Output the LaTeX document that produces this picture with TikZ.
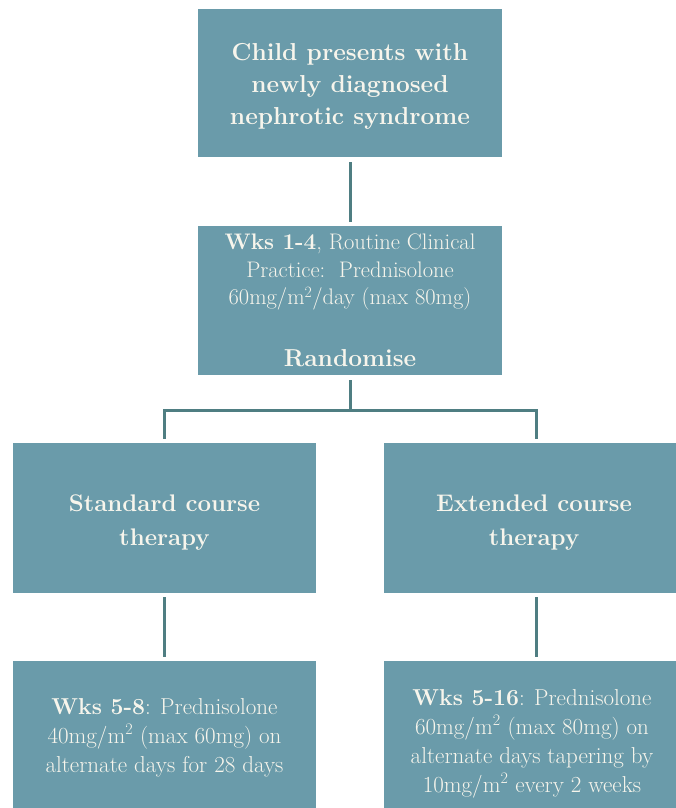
\documentclass[tikz,border=0pt]{standalone}
\usepackage{fontspec}
\definecolor{boxfill}{HTML}{6A9BAA}
\definecolor{linecol}{HTML}{4F7E82}
\definecolor{txtcol}{HTML}{F7F5EC}
\tikzset{
  flowbox/.style={fill=boxfill, draw=none, inner sep=0pt},
  boxtext/.style={inner sep=0pt, align=center, text=txtcol},
  conn/.style={draw=linecol, line width=3pt},
}
\begin{document}
\begin{tikzpicture}[x=1pt,y=-1pt]
\useasboundingbox (0,0) rectangle (676,808);
\fill[white] (0,0) rectangle (676,808);
\clip (0,0) rectangle (676,808);
\node[flowbox, minimum width=304pt, minimum height=148pt] (top) at (350,83) {};
\node[boxtext, font=\fontsize{24.5}{32}\selectfont\bfseries] (toptext) at ([yshift=-3pt]top.center)
  {Child presents with\\newly diagnosed\\nephrotic syndrome};
\node[flowbox, minimum width=304pt, minimum height=149pt] (mid) at (350,300.5) {};
\node[boxtext, font=\fontsize{22.5}{27.5}\selectfont] (midtext) at ([yshift=0pt]mid.center)
  {\textbf{Wks 1-4}, Routine Clinical\\Practice:\ \ Prednisolone\\60mg/m\textsuperscript{2}/day (max 80mg)\\[34pt]{\fontsize{24.5}{28}\selectfont\bfseries Randomise}};
\node[flowbox, minimum width=303pt, minimum height=150pt] (std) at (164.5,518) {};
\node[boxtext, font=\fontsize{24}{34}\selectfont\bfseries] (stdtext) at ([yshift=-5pt]std.center)
  {Standard course\\therapy};
\node[flowbox, minimum width=296pt, minimum height=150pt] (ext) at (532,518) {};
\node[boxtext, font=\fontsize{24}{34}\selectfont\bfseries] (exttext) at ([xshift=2pt,yshift=-5pt]ext.center)
  {Extended course\\therapy};
\node[flowbox, minimum width=303pt, minimum height=154pt] (stdw) at (164.5,738) {};
\node[boxtext, font=\fontsize{23}{29}\selectfont] (stdwtext) at ([yshift=0pt]stdw.center)
  {\textbf{Wks 5-8}: Prednisolone\\40mg/m\textsuperscript{2} (max 60mg) on\\alternate days for 28 days};
\node[flowbox, minimum width=296pt, minimum height=154pt] (extw) at (532,738) {};
\node[boxtext, font=\fontsize{23}{29}\selectfont] (extwtext) at ([yshift=-6pt]extw.center)
  {\textbf{Wks 5-16}: Prednisolone\\60mg/m\textsuperscript{2} (max 80mg) on\\alternate days tapering by\\10mg/m\textsuperscript{2} every 2 weeks};
\coordinate (split) at (350,410);
\coordinate (splitL) at (164,410);
\coordinate (splitR) at (536,410);
\draw[conn] ([yshift=-5pt]top.south) -- ([yshift=4pt]mid.north);
\draw[conn] ([yshift=-5pt]mid.south) -- (split);
\draw[conn] ([yshift=4pt]splitL |- std.north) -- (splitL) -- (splitR) -- ([yshift=4pt]splitR |- ext.north);
\draw[conn] ([yshift=-4pt]splitL |- std.south) -- ([yshift=4pt]splitL |- stdw.north);
\draw[conn] ([yshift=-4pt]splitR |- ext.south) -- ([yshift=4pt]splitR |- extw.north);
\end{tikzpicture}
\end{document}
